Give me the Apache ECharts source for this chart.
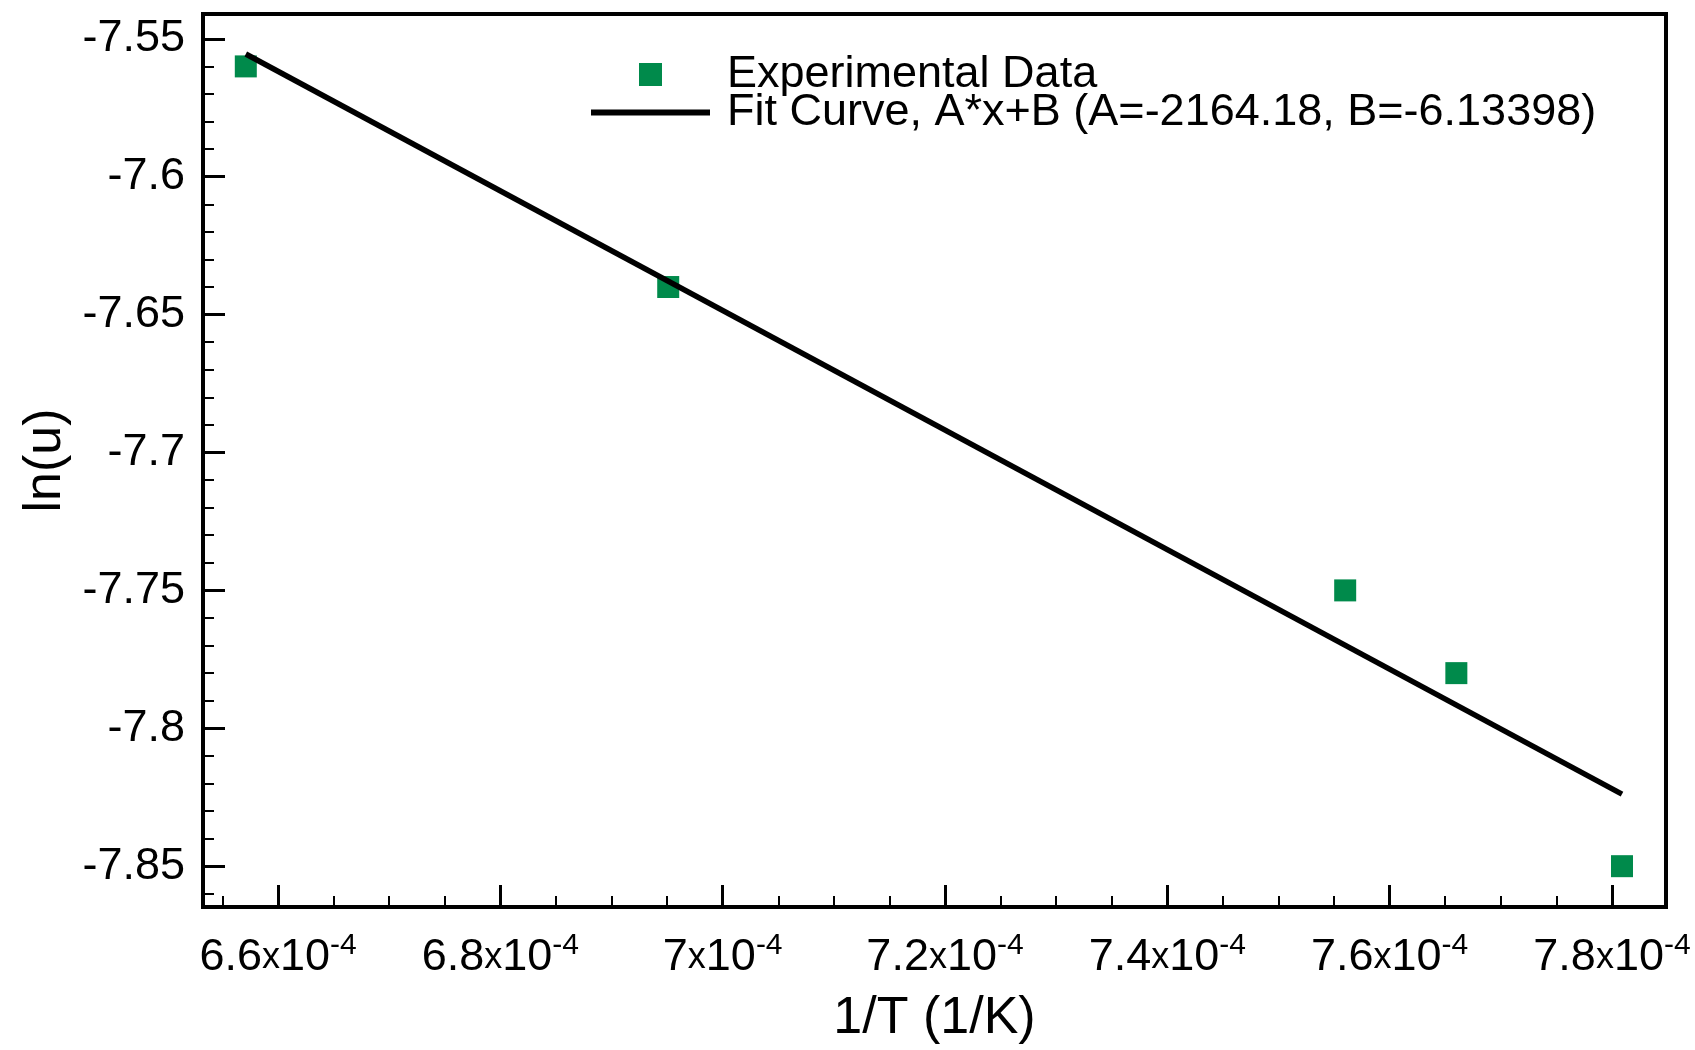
<!DOCTYPE html>
<html>
<head>
<meta charset="utf-8">
<title>ln(u) vs 1/T</title>
<script src="https://cdn.jsdelivr.net/npm/echarts@6/dist/echarts.min.js"></script>
<style>
  html, body {
    margin: 0;
    padding: 0;
    background: #fff;
  }
  #arrheniusChart {
    width: 1695px;
    height: 1050px;
  }
</style>
</head>
<body>
<div id="arrheniusChart"></div>
<script>
// 实验数据 (1/T, ln(u))
const invT = [6.571e-4, 6.951e-4, 7.56e-4, 7.66e-4, 7.809e-4];
const lnU = [-7.56, -7.64, -7.75, -7.78, -7.85];

// 拟合直线的两个端点
const fitX = [6.571e-4, 7.809e-4];
const fitY = [-7.5555, -7.8239];

// 刻度
const xMajorTicks = [6.6e-4, 6.8e-4, 7.0e-4, 7.2e-4, 7.4e-4, 7.6e-4, 7.8e-4];
const xMinorTicks = [
  6.55e-4, 6.65e-4, 6.7e-4, 6.75e-4, 6.85e-4, 6.9e-4, 6.95e-4,
  7.05e-4, 7.1e-4, 7.15e-4, 7.25e-4, 7.3e-4, 7.35e-4, 7.45e-4,
  7.5e-4, 7.55e-4, 7.65e-4, 7.7e-4, 7.75e-4,
];
const yMajorTicks = [-7.85, -7.8, -7.75, -7.7, -7.65, -7.6, -7.55];
const yMinorTicks = [
  -7.86, -7.84, -7.83, -7.82, -7.81, -7.79, -7.78, -7.77, -7.76,
  -7.74, -7.73, -7.72, -7.71, -7.69, -7.68, -7.67, -7.66,
  -7.64, -7.63, -7.62, -7.61, -7.59, -7.58, -7.57, -7.56,
];

const legendNames = [
  "Experimental Data",
  "Fit Curve, A*x+B (A=-2164.18, B=-6.13398)",
];

const xRange = [6.5325e-4, 7.8486e-4];
const yRange = [-7.8648, -7.541];

let chartDom = document.getElementById("arrheniusChart");
let chart = echarts.init(chartDom);
var option;

const FONT = "Liberation Sans, Arial, Helvetica, sans-serif";
const GREEN = "#008a4b";

option = {
  backgroundColor: "#fff",
  animation: false,
  textStyle: { fontFamily: FONT, color: "#000" },
  grid: {
    left: 203,
    right: 29,
    top: 14,
    bottom: 139,
    show: true,
    borderColor: "#000",
    borderWidth: 4,
    backgroundColor: "transparent",
  },
  legend: {
    orient: "vertical",
    left: 586,
    top: 47,
    itemWidth: 119,
    itemHeight: 23,
    itemGap: -7,
    selectedMode: false,
    symbolKeepAspect: true,
    data: [
      // 图例图标：方块 / 粗横线
      { name: legendNames[0], icon: "path://M0,0L1,0L1,1L0,1Z", itemStyle: { color: GREEN } },
      { name: legendNames[1], icon: "path://M0,0L119,0L119,6L0,6Z", itemStyle: { color: "#000" } },
    ],
    textStyle: {
      fontFamily: FONT,
      fontSize: 45,
      lineHeight: 36,
      color: "#000",
      padding: [0, 0, 0, 12],
    },
  },
  xAxis: [
    {
      type: "value",
      min: xRange[0],
      max: xRange[1],
      position: "bottom",
      name: "1/T (1/K)",
      nameLocation: "middle",
      nameGap: 86,
      nameTextStyle: { fontFamily: FONT, fontSize: 52, color: "#000" },
      axisLine: { show: true, lineStyle: { color: "#000", width: 4 } },
      axisTick: {
        show: true,
        inside: true,
        length: 22,
        lineStyle: { color: "#000", width: 3 },
        customValues: xMajorTicks,
      },
      axisLabel: {
        show: true,
        margin: 24,
        customValues: xMajorTicks,
        formatter: function (value) {
          const m = Math.round(value * 1e5) / 10;
          return "{m|" + m + "}{x|x}{m|10}{s|-4}";
        },
        rich: {
          m: { fontFamily: FONT, fontSize: 45, color: "#000" },
          x: { fontFamily: FONT, fontSize: 36, color: "#000" },
          s: {
            fontFamily: FONT,
            fontSize: 30,
            color: "#000",
            verticalAlign: "top",
            padding: [0, 0, 24, 0],
          },
        },
      },
      splitLine: { show: false },
    },
    {
      // 次刻度
      type: "value",
      min: xRange[0],
      max: xRange[1],
      position: "bottom",
      axisLine: { show: false },
      axisTick: {
        show: true,
        inside: true,
        length: 11,
        lineStyle: { color: "#000", width: 2 },
        customValues: xMinorTicks,
      },
      axisLabel: { show: false },
      splitLine: { show: false },
    },
  ],
  yAxis: [
    {
      type: "value",
      min: yRange[0],
      max: yRange[1],
      position: "left",
      name: "ln(u)",
      nameLocation: "middle",
      nameGap: 128,
      nameRotate: 90,
      nameTextStyle: { fontFamily: FONT, fontSize: 52, color: "#000" },
      axisLine: { show: true, lineStyle: { color: "#000", width: 4 } },
      axisTick: {
        show: true,
        inside: true,
        length: 22,
        lineStyle: { color: "#000", width: 3 },
        customValues: yMajorTicks,
      },
      axisLabel: {
        show: true,
        margin: 18,
        fontFamily: FONT,
        fontSize: 45,
        color: "#000",
        customValues: yMajorTicks,
        formatter: function (value) {
          return String(+value.toFixed(2));
        },
      },
      splitLine: { show: false },
    },
    {
      type: "value",
      min: yRange[0],
      max: yRange[1],
      position: "left",
      axisLine: { show: false },
      axisTick: {
        show: true,
        inside: true,
        length: 11,
        lineStyle: { color: "#000", width: 2 },
        customValues: yMinorTicks,
      },
      axisLabel: { show: false },
      splitLine: { show: false },
    },
  ],
  series: [
    {
      name: legendNames[0],
      type: "scatter",
      symbol: "rect",
      symbolSize: 22,
      z: 2,
      itemStyle: { color: GREEN, opacity: 1 },
      data: invT.map((x, i) => [x, lnU[i]]),
    },
    {
      name: legendNames[1],
      type: "line",
      symbol: "none",
      z: 3,
      lineStyle: { color: "#000", width: 5.5 },
      itemStyle: { color: "#000" },
      data: fitX.map((x, i) => [x, fitY[i]]),
    },
  ],
};

option && chart.setOption(option);
</script>
</body>
</html>
